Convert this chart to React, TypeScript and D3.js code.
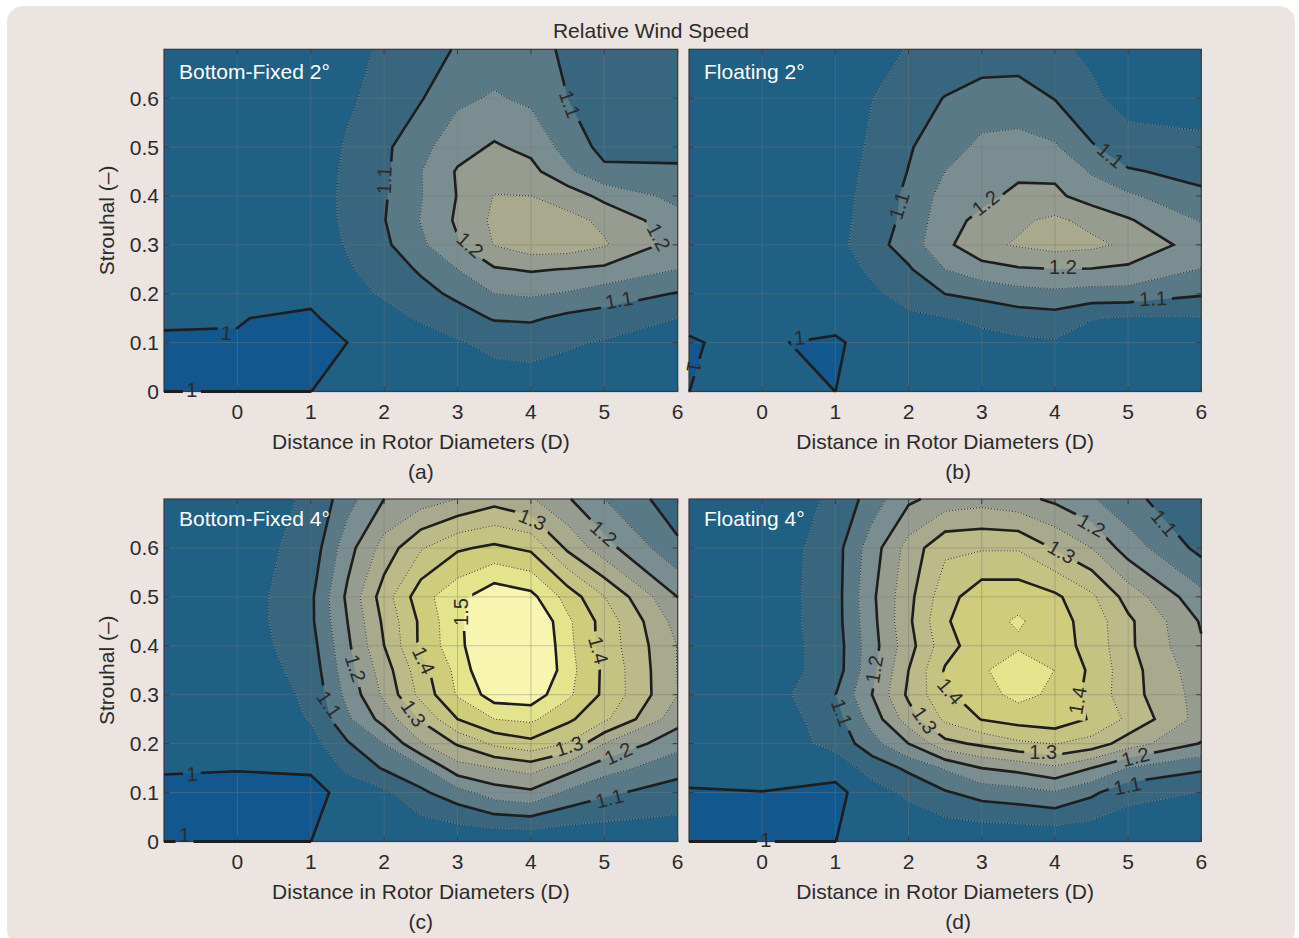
import React from "react";
import * as d3 from "d3";

// ---------- data ----------
const distanceD = [-1, 0, 1, 1.5, 2, 2.5, 3, 3.5, 4, 4.5, 5, 6];
const strouhal = [0, 0.1, 0.15, 0.2, 0.25, 0.3, 0.35, 0.4, 0.45, 0.5, 0.6, 0.7];
const levels = [1, 1.05, 1.1, 1.15, 1.2, 1.25, 1.3, 1.35, 1.4, 1.45, 1.5];
const xTicks = [0, 1, 2, 3, 4, 5, 6];
const yTicks = [0, 0.1, 0.2, 0.3, 0.4, 0.5, 0.6];

// each inner array: one distance column, values from Strouhal 0 upward
const bottomFixed2 = [
  [0.97, 0.99, 1.01, 1.02, 1.02, 1.02, 1.02, 1.02, 1.02, 1.02, 1.02, 1.02],
  [0.98, 0.997, 1.002, 1.02, 1.02, 1.02, 1.02, 1.02, 1.02, 1.02, 1.02, 1.02],
  [0.9999, 0.98, 0.99, 1.0165, 1.0125, 1.0186, 1.0234, 1.0262, 1.0255, 1.02, 1.0203, 1.0185],
  [1.005, 1.0001, 1.03, 1.036, 1.044, 1.054, 1.06, 1.06, 1.058, 1.055, 1.043, 1.037],
  [1.01, 1.02, 1.035, 1.055, 1.075, 1.09, 1.098, 1.095, 1.09, 1.09, 1.066, 1.056],
  [1.012, 1.03, 1.055, 1.085, 1.106, 1.14, 1.152, 1.147, 1.148, 1.135, 1.0965, 1.075],
  [1.015, 1.045, 1.08, 1.11, 1.15, 1.195, 1.208, 1.202, 1.205, 1.18, 1.14, 1.105],
  [1.02, 1.064, 1.104, 1.15, 1.195, 1.252, 1.26, 1.252, 1.225, 1.206, 1.155, 1.125],
  [1.025, 1.067, 1.107, 1.157, 1.205, 1.28, 1.285, 1.25, 1.215, 1.187, 1.14, 1.11],
  [1.025, 1.055, 1.088, 1.145, 1.198, 1.279, 1.265, 1.228, 1.16, 1.13, 1.1, 1.095],
  [1.02, 1.046, 1.08, 1.125, 1.19, 1.255, 1.24, 1.185, 1.11, 1.085, 1.07, 1.06],
  [1.01, 1.035, 1.05, 1.097, 1.15, 1.18, 1.168, 1.135, 1.105, 1.09, 1.07, 1.06],
];
const floating2 = [
  [0.9999, 0.9992, 1.002, 1.02, 1.02, 1.02, 1.02, 1.02, 1.02, 1.02, 1.02, 1.02],
  [1.02, 1.003, 1.012, 1.02, 1.02, 1.025, 1.025, 1.025, 1.025, 1.025, 1.025, 1.02],
  [0.9999, 0.995, 1.012, 1.012, 1.024, 1.034, 1.031, 1.028, 1.025, 1.021, 1.022, 1.02],
  [1.02, 1.013, 1.025, 1.04, 1.059, 1.079, 1.072, 1.069, 1.063, 1.058, 1.049, 1.036],
  [1.02, 1.03, 1.04, 1.07, 1.094, 1.1245, 1.114, 1.11, 1.1016, 1.095, 1.076, 1.052],
  [1.015, 1.03, 1.048, 1.1005, 1.1502, 1.188, 1.181, 1.169, 1.1502, 1.131, 1.102, 1.06],
  [1.015, 1.035, 1.06, 1.115, 1.18, 1.238, 1.213, 1.187, 1.167, 1.16, 1.125, 1.065],
  [1.02, 1.04, 1.075, 1.13, 1.195, 1.255, 1.242, 1.212, 1.19, 1.165, 1.125, 1.07],
  [1.02, 1.045, 1.08, 1.138, 1.199, 1.27, 1.26, 1.21, 1.19, 1.156, 1.098, 1.06],
  [1.02, 1.03, 1.052, 1.13, 1.198, 1.262, 1.235, 1.178, 1.145, 1.105, 1.06, 1.04],
  [1.015, 1.025, 1.045, 1.13, 1.19, 1.24, 1.205, 1.158, 1.105, 1.072, 1.03, 1.02],
  [1.01, 1.02, 1.047, 1.105, 1.148, 1.1755, 1.147, 1.11, 1.085, 1.06, 1.03, 1.02],
];
const bottomFixed4 = [
  [0.97, 0.98, 1.007, 1.01, 1.01, 1.01, 1.01, 1.015, 1.015, 1.015, 1.015, 1.02],
  [0.97, 0.98, 1.003, 1.01, 1.01, 1.01, 1.015, 1.02, 1.02, 1.02, 1.025, 1.03],
  [0.9999, 0.98, 1.008, 1.03, 1.053, 1.06, 1.07, 1.08, 1.09, 1.09, 1.068, 1.055],
  [1.01, 1.02, 1.06, 1.095, 1.14, 1.165, 1.18, 1.19, 1.2, 1.21, 1.18, 1.13],
  [1.01, 1.04, 1.105, 1.15, 1.22, 1.26, 1.275, 1.3, 1.31, 1.325, 1.27, 1.2],
  [1.005, 1.09, 1.14, 1.245, 1.305, 1.365, 1.38, 1.41, 1.41, 1.43, 1.345, 1.225],
  [1.005, 1.13, 1.23, 1.305, 1.4, 1.455, 1.465, 1.485, 1.49, 1.485, 1.393, 1.25],
  [1.005, 1.175, 1.25, 1.36, 1.45, 1.525, 1.56, 1.56, 1.55, 1.535, 1.41, 1.28],
  [1.005, 1.19, 1.27, 1.385, 1.46, 1.53, 1.575, 1.57, 1.56, 1.515, 1.39, 1.255],
  [1.005, 1.14, 1.22, 1.347, 1.41, 1.46, 1.47, 1.465, 1.46, 1.43, 1.29, 1.205],
  [1.01, 1.11, 1.17, 1.25, 1.36, 1.39, 1.39, 1.38, 1.38, 1.351, 1.22, 1.15],
  [1.02, 1.075, 1.12, 1.165, 1.22, 1.25, 1.248, 1.248, 1.23, 1.199, 1.11, 1.07],
];
const floating4 = [
  [0.97, 0.995, 1.02, 1.01, 1.01, 1.01, 1.01, 1.01, 1.01, 1.01, 1.01, 1.02],
  [0.97, 0.9995, 1.01, 1.012, 1.01, 1.0167, 1.015, 1.015, 1.015, 1.015, 1.01, 1.03],
  [0.9999, 0.985, 1.02, 1.066, 1.08, 1.099, 1.075, 1.075, 1.08, 1.08, 1.08, 1.055],
  [1.005, 1.03, 1.07, 1.13, 1.17, 1.2, 1.185, 1.18, 1.185, 1.19, 1.175, 1.125],
  [1.005, 1.06, 1.11, 1.2001, 1.275, 1.31, 1.3, 1.28, 1.29, 1.285, 1.27, 1.19],
  [1.005, 1.095, 1.155, 1.285, 1.36, 1.39, 1.405, 1.38, 1.395, 1.38, 1.34, 1.22],
  [1.005, 1.12, 1.2, 1.31, 1.402, 1.43, 1.44, 1.43, 1.43, 1.43, 1.345, 1.23],
  [1.005, 1.13, 1.215, 1.34, 1.42, 1.465, 1.49, 1.44, 1.457, 1.43, 1.345, 1.215],
  [1.005, 1.145, 1.24, 1.352, 1.43, 1.44, 1.449, 1.42, 1.42, 1.41, 1.295, 1.19],
  [1.005, 1.11, 1.2, 1.33, 1.395, 1.385, 1.39, 1.385, 1.38, 1.36, 1.25, 1.155],
  [1.01, 1.065, 1.148, 1.275, 1.34, 1.32, 1.32, 1.31, 1.31, 1.28, 1.175, 1.115],
  [1.02, 1.049, 1.108, 1.197, 1.23, 1.23, 1.22, 1.205, 1.195, 1.165, 1.085, 1.055],
];

type Lab = [string, number, number, number]; // text, D, St, angle
const labelsA: Lab[] = [
  ["1", -0.15, 0.12, 4], ["1", -0.62, 0.004, 0], ["1.1", 2.0, 0.432, -88], ["1.1", 4.53, 0.588, 70],
  ["1.1", 5.2, 0.187, -10], ["1.2", 3.17, 0.3, 42], ["1.2", 5.74, 0.316, 62],
];
const labelsB: Lab[] = [
  ["1", 0.51, 0.11, -6], ["1", -0.93, 0.05, 100], ["1.1", 1.87, 0.38, -72], ["1.1", 4.76, 0.483, 40],
  ["1.1", 5.34, 0.19, -3], ["1.2", 3.05, 0.386, -38], ["1.2", 4.11, 0.255, 0],
];
const labelsC: Lab[] = [
  ["1", -0.62, 0.138, -3], ["1", -0.72, 0.013, 0], ["1.1", 1.25, 0.28, 55], ["1.1", 5.07, 0.088, -15],
  ["1.2", 1.61, 0.354, 72], ["1.2", 4.99, 0.63, 42], ["1.2", 5.19, 0.18, -25], ["1.3", 4.02, 0.658, 22],
  ["1.3", 2.4, 0.262, 55], ["1.3", 4.52, 0.195, -18], ["1.4", 2.54, 0.37, 65], ["1.4", 4.92, 0.391, 75],
  ["1.5", 3.05, 0.469, -90],
];
const labelsD: Lab[] = [
  ["1", 0.05, 0.003, 0], ["1.1", 1.09, 0.263, 70], ["1.1", 5.49, 0.651, 50], ["1.1", 4.99, 0.114, -12],
  ["1.2", 1.53, 0.352, -80], ["1.2", 4.5, 0.646, 30], ["1.2", 5.1, 0.173, -15], ["1.3", 4.09, 0.592, 30],
  ["1.3", 2.22, 0.248, 55], ["1.3", 3.84, 0.182, 0], ["1.4", 2.57, 0.307, 50], ["1.4", 4.31, 0.288, -80],
];

const panelTitles = ["Bottom-Fixed 2°", "Floating 2°", "Bottom-Fixed 4°", "Floating 4°"];
const panelTags = ["(a)", "(b)", "(c)", "(d)"];
const panelData = [bottomFixed2, floating2, bottomFixed4, floating4];
const panelLabels = [labelsA, labelsB, labelsC, labelsD];

// ---------- style ----------
const bandColors = ["#12588f", "#206084", "#38667f", "#587985", "#7a8d90", "#979c90", "#a9a98e", "#bbba88", "#c5c381", "#cfcc7c", "#e3e48c", "#f8f5b0"];
const FONT = "'Liberation Sans', Arial, sans-serif";
const INK = "#2b2b2b";
const TXT = 21;
const frames = [
  { left: 164, right: 677.7, top: 49.3, bottom: 391.5 },
  { left: 689, right: 1201.3, top: 49.3, bottom: 391.5 },
  { left: 164, right: 677.7, top: 499, bottom: 841.5 },
  { left: 689, right: 1201.3, top: 499, bottom: 841.5 },
];

function Panel({ index }: { index: number }) {
  const f = frames[index];
  const cols = panelData[index];
  const nx = distanceD.length;
  const ny = strouhal.length;
  const flat: number[] = [];
  for (let j = 0; j < ny; j++) for (let i = 0; i < nx; i++) flat.push(cols[i][j]);

  const x = d3.scaleLinear().domain([-1, 6]).range([f.left, f.right]);
  const y = d3.scaleLinear().domain([0, 0.7]).range([f.bottom, f.top]);
  const ix = d3.scaleLinear().domain(distanceD.map((_, i) => i + 0.5)).range(distanceD).clamp(true);
  const iy = d3.scaleLinear().domain(strouhal.map((_, i) => i + 0.5)).range(strouhal).clamp(true);

  const contours = d3.contours().size([nx, ny]).thresholds(levels)(flat);
  const toPx = (p: number[]): [number, number] => [x(ix(p[0])), y(iy(p[1]))];
  const line = d3.line();

  const fills = contours.map((c: any) =>
    c.coordinates.map((poly: any) => poly.map((ring: any) => line(ring.map(toPx)) + "Z").join("")).join("")
  );

  const onSameEdge = (a: [number, number], b: [number, number]) =>
    (Math.abs(a[0] - f.left) < 0.01 && Math.abs(b[0] - f.left) < 0.01) ||
    (Math.abs(a[0] - f.right) < 0.01 && Math.abs(b[0] - f.right) < 0.01) ||
    (Math.abs(a[1] - f.top) < 0.01 && Math.abs(b[1] - f.top) < 0.01) ||
    (Math.abs(a[1] - f.bottom) < 0.01 && Math.abs(b[1] - f.bottom) < 0.01);

  const strokes = contours.map((c: any) => {
    let out = "";
    c.coordinates.forEach((poly: any) =>
      poly.forEach((ring: any) => {
        const pts: [number, number][] = ring.map(toPx);
        const n = pts.length - 1;
        let start = -1;
        for (let k = 0; k < n; k++) if (onSameEdge(pts[k], pts[k + 1])) { start = k + 1; break; }
        if (start < 0) { out += line(pts) + "Z"; return; }
        let run: [number, number][] = [pts[start % n]];
        for (let k = 0; k < n; k++) {
          const a = pts[(start + k) % n];
          const b = pts[(start + k + 1) % n];
          if (onSameEdge(a, b)) {
            if (run.length > 1) out += line(run);
            run = [b];
          } else run.push(b);
        }
        if (run.length > 1) out += line(run);
      })
    );
    return out;
  });

  // the level-1 contour also runs along the lower axis where the bottom row lies under 1
  let bottomEdge = "";
  for (let i = 0; i < nx - 1; i++) {
    const a = cols[i][0], b = cols[i + 1][0];
    if (a < 1 && b < 1) bottomEdge += `M${x(distanceD[i])},${f.bottom}L${x(distanceD[i + 1])},${f.bottom}`;
    else if (a < 1 && b >= 1) {
      const t = (1 - a) / (b - a);
      bottomEdge += `M${x(distanceD[i])},${f.bottom}L${x(distanceD[i] + t * (distanceD[i + 1] - distanceD[i]))},${f.bottom}`;
    }
  }

  const labs = panelLabels[index];
  const maskId = `gap${index}`;
  const clipId = `clip${index}`;
  const tagX = (f.left + f.right) / 2 + (index % 2 === 0 ? 0 : 13);
  const axisCx = (f.left + f.right) / 2;

  return (
    <g>
      <defs>
        <clipPath id={clipId}><rect x={f.left} y={f.top} width={f.right - f.left} height={f.bottom - f.top} /></clipPath>
        <mask id={maskId} maskUnits="userSpaceOnUse" x={f.left - 20} y={f.top - 20} width={f.right - f.left + 40} height={f.bottom - f.top + 40}>
          <rect x={f.left - 20} y={f.top - 20} width={f.right - f.left + 40} height={f.bottom - f.top + 40} fill="#fff" />
          {labs.map((l, i) => {
            const w = l[0].length > 1 ? 38 : 18;
            return <rect key={i} x={-w / 2} y={-11} width={w} height={22} fill="#000" transform={`translate(${x(l[1])},${y(l[2])}) rotate(${l[3]})`} />;
          })}
        </mask>
      </defs>

      <g clipPath={`url(#${clipId})`}>
        <rect x={f.left} y={f.top} width={f.right - f.left} height={f.bottom - f.top} fill={bandColors[0]} />
        {fills.map((d: string, i: number) => <path key={i} d={d} fill={bandColors[i + 1]} fillRule="evenodd" />)}
        {xTicks.map((t) => <line key={t} x1={x(t)} x2={x(t)} y1={f.top} y2={f.bottom} stroke="rgba(120,120,120,0.4)" strokeWidth={1} />)}
        {yTicks.map((t) => <line key={t} x1={f.left} x2={f.right} y1={y(t)} y2={y(t)} stroke="rgba(120,120,120,0.4)" strokeWidth={1} />)}
        {strokes.map((d: string, i: number) =>
          i % 2 === 1 ? (
            <g key={i} fill="none">
              <path d={d} stroke="rgba(255,255,255,0.3)" strokeWidth={0.7} />
              <path d={d} stroke="#181818" strokeWidth={1} strokeDasharray="1 2" opacity={0.9} />
            </g>
          ) : null
        )}
      </g>

      <rect x={f.left} y={f.top} width={f.right - f.left} height={f.bottom - f.top} fill="none" stroke="#3a3a3a" strokeWidth={1.2} />
      {xTicks.map((t) => (
        <g key={t} stroke="#3a3a3a" strokeWidth={1}>
          <line x1={x(t)} x2={x(t)} y1={f.bottom} y2={f.bottom - 5} />
          <line x1={x(t)} x2={x(t)} y1={f.top} y2={f.top + 5} />
        </g>
      ))}
      {yTicks.map((t) => (
        <g key={t} stroke="#3a3a3a" strokeWidth={1}>
          <line x1={f.left} x2={f.left + 5} y1={y(t)} y2={y(t)} />
          <line x1={f.right} x2={f.right - 5} y1={y(t)} y2={y(t)} />
        </g>
      ))}

      <g mask={`url(#${maskId})`} fill="none" stroke="#1e1e1e" strokeWidth={2.6} strokeLinejoin="miter">
        {strokes.map((d: string, i: number) => (i % 2 === 0 ? <path key={i} d={d} /> : null))}
        <path d={bottomEdge} strokeWidth={3} />
      </g>

      <g fontFamily={FONT} fill={INK}>
        {labs.map((l, i) => (
          <text key={i} fontSize={20} textAnchor="middle" dominantBaseline="central" transform={`translate(${x(l[1])},${y(l[2])}) rotate(${l[3]})`}>{l[0]}</text>
        ))}
        <text x={f.left + 15} y={f.top + (index < 2 ? 29.5 : 26.5)} fontSize={TXT} fill="#fff">{panelTitles[index]}</text>
        {xTicks.map((t) => <text key={t} x={x(t)} y={f.bottom + 27} fontSize={TXT} textAnchor="middle">{t}</text>)}
        {index % 2 === 0 && yTicks.map((t) => <text key={t} x={f.left - 5} y={y(t) + 7.5} fontSize={TXT} textAnchor="end">{t}</text>)}
        <text x={axisCx} y={f.bottom + 57} fontSize={TXT} textAnchor="middle">Distance in Rotor Diameters (D)</text>
        <text x={tagX} y={f.bottom + 87} fontSize={TXT} textAnchor="middle">{panelTags[index]}</text>
        {index % 2 === 0 && (
          <text transform={`translate(${f.left - 50},${(f.top + f.bottom) / 2}) rotate(-90)`} fontSize={TXT} textAnchor="middle">Strouhal (–)</text>
        )}
      </g>
    </g>
  );
}

export default function App() {
  return (
    <svg width={1299} height={938} viewBox="0 0 1299 938" style={{ position: "absolute", left: 0, top: 0, background: "#fff" }}>
      <rect x={7} y={6} width={1288} height={940} rx={16} fill="#ebe4e0" />
      <text x={651} y={38} fontFamily={FONT} fontSize={TXT} fill={INK} textAnchor="middle">Relative Wind Speed</text>
      {frames.map((_, i) => <Panel key={i} index={i} />)}
    </svg>
  );
}
